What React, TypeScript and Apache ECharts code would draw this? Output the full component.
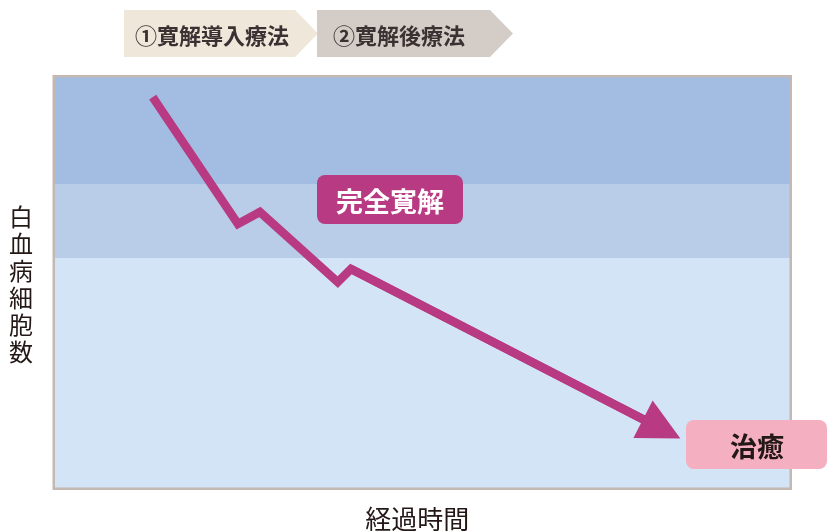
import React, { useEffect, useRef } from "react";
import * as echarts from "echarts";

// Path of the white-blood-cell count over time (x: elapsed time, y: cell count), 0-100 scale
const timePoints = [13.3, 24.9, 27.9, 38.5, 40.3, 82.6];
const cellCounts = [95.2, 64.3, 67.2, 50.1, 53.3, 14.3];

// Horizontal background bands (lower, upper, colour)
const bandLower = [74, 56, 0];
const bandUpper = [100, 74, 56];
const bandColors = ["#a2bde1", "#b9cce8", "#d2e4f5"];

// Phase labels
const phaseLabels = ["①寛解導入療法", "②寛解後療法"];
const yAxisTitle = "白血病細胞数";
const xAxisTitle = "経過時間";
const remissionLabel = "完全寛解";
const cureLabel = "治癒";

const FONT = '"Noto Sans CJK JP", "Noto Sans", sans-serif';
const LINE_COLOR = "#b83a82";

export default function App() {
  const ref = useRef<HTMLDivElement>(null);

  useEffect(() => {
    if (!ref.current) return;
    const chart = echarts.init(ref.current, undefined, { renderer: "svg" });

    const coords = timePoints.map((x, i) => [x, cellCounts[i]]);
    const n = coords.length;
    const areas = bandLower.map((lo, i) => [
      { yAxis: lo, itemStyle: { color: bandColors[i] } },
      { yAxis: bandUpper[i] },
    ]);
    const lineStyle = {
      color: LINE_COLOR,
      width: 8.5,
      opacity: 1,
      join: "miter",
      cap: "butt",
      miterLimit: 20,
    };

    chart.setOption({
      animation: false,
      grid: {
        left: 55,
        top: 77.5,
        right: 37.5,
        bottom: 43.5,
        containLabel: false,
        outerBoundsMode: "none",
        show: true,
        backgroundColor: "#d2e4f5",
        borderColor: "#c3b9b2",
        borderWidth: 5,
      },
      xAxis: {
        type: "value",
        min: 0,
        max: 100,
        axisLine: { show: false },
        axisTick: { show: false },
        axisLabel: { show: false },
        splitLine: { show: false },
        name: xAxisTitle,
        nameLocation: "middle",
        nameGap: 17,
        nameTextStyle: {
          fontFamily: FONT,
          fontSize: 26,
          color: "#231815",
          padding: [0, 10, 0, 0],
        },
      },
      yAxis: {
        type: "value",
        min: 0,
        max: 100,
        axisLine: { show: false },
        axisTick: { show: false },
        axisLabel: { show: false },
        splitLine: { show: false },
        name: yAxisTitle.split("").join("\n"),
        nameLocation: "middle",
        nameRotate: 0,
        nameGap: 22,
        nameTextStyle: {
          fontFamily: FONT,
          fontSize: 24,
          lineHeight: 27,
          color: "#231815",
        },
      },
      series: [
        {
          type: "line",
          data: [],
          silent: true,
          markArea: {
            silent: true,
            data: areas,
          },
        },
        {
          type: "lines",
          coordinateSystem: "cartesian2d",
          polyline: true,
          silent: true,
          lineStyle,
          data: [{ coords }],
          z: 5,
        },
        {
          type: "lines",
          coordinateSystem: "cartesian2d",
          polyline: false,
          silent: true,
          symbol: ["none", "triangle"],
          symbolSize: [42, 42],
          lineStyle,
          itemStyle: { color: LINE_COLOR },
          data: [{ coords: [coords[n - 2], coords[n - 1]] }],
          z: 5,
        },
      ],
      graphic: [
        {
          type: "polygon",
          shape: {
            points: [
              [124, 10],
              [295, 10],
              [318, 33.5],
              [295, 57],
              [124, 57],
            ],
          },
          style: { fill: "#efe7da" },
        },
        {
          type: "polygon",
          shape: {
            points: [
              [317, 10],
              [490, 10],
              [513, 33.5],
              [490, 57],
              [317, 57],
            ],
          },
          style: { fill: "#d4ccc7" },
        },
        {
          type: "text",
          x: 135,
          y: 34,
          style: {
            text: phaseLabels[0],
            fontFamily: FONT,
            fontWeight: "bold",
            fontSize: 22,
            fill: "#3a3232",
            verticalAlign: "middle",
            align: "left",
          },
        },
        {
          type: "text",
          x: 333,
          y: 34,
          style: {
            text: phaseLabels[1],
            fontFamily: FONT,
            fontWeight: "bold",
            fontSize: 22,
            fill: "#3a3232",
            verticalAlign: "middle",
            align: "left",
          },
        },
        {
          type: "rect",
          shape: { x: 317, y: 175, width: 146, height: 49, r: 8 },
          style: { fill: LINE_COLOR },
          z: 10,
        },
        {
          type: "text",
          x: 390,
          y: 200,
          style: {
            text: remissionLabel,
            fontFamily: FONT,
            fontWeight: "bold",
            fontSize: 27,
            fill: "#ffffff",
            align: "center",
            verticalAlign: "middle",
          },
          z: 11,
        },
        {
          type: "rect",
          shape: { x: 686, y: 420, width: 141, height: 49, r: 8 },
          style: { fill: "#f4afc0" },
          z: 10,
        },
        {
          type: "text",
          x: 757,
          y: 445,
          style: {
            text: cureLabel,
            fontFamily: FONT,
            fontWeight: "bold",
            fontSize: 27,
            fill: "#231815",
            align: "center",
            verticalAlign: "middle",
          },
          z: 11,
        },
      ],
    });

    return () => chart.dispose();
  }, []);

  return <div ref={ref} style={{ width: 827, height: 531, position: "fixed", left: 0, top: 0 }} />;
}
